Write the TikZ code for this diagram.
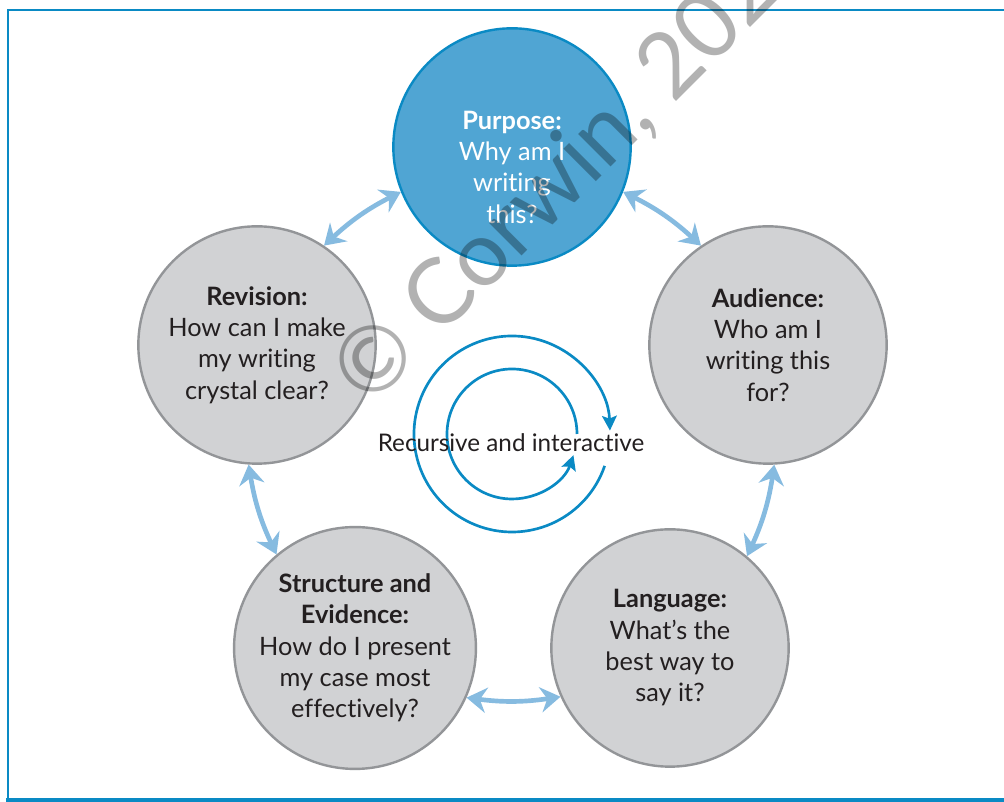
\documentclass[tikz,border=0pt]{standalone}
\usepackage{fontspec}
\setmainfont{Lato}[Ligatures=NoCommon]
\usetikzlibrary{arrows.meta}

\definecolor{ringblue}{HTML}{0A8AC4}
\definecolor{hubfill}{HTML}{50A5D3}
\definecolor{stagefill}{HTML}{D1D2D4}
\definecolor{stagering}{HTML}{939598}
\definecolor{linkblue}{HTML}{86BBE0}
\definecolor{ink}{HTML}{231F20}

\begin{document}
\begin{tikzpicture}[
  x=0.75pt, y=0.75pt,
  stage/.style={circle, draw=stagering, line width=1.8pt, fill=stagefill,
                minimum size=178pt, inner sep=0pt, align=center, text=ink,
                font=\fontsize{19}{23.5}\selectfont},
  hub/.style={stage, draw=ringblue, fill=hubfill},
  link/.style={{Stealth[length=15pt,width=19pt,inset=5pt]}-{Stealth[length=15pt,width=19pt,inset=5pt]},
               line width=3.5pt, linkblue},
  swirl/.style={-{Stealth[length=11pt,width=11pt,inset=2pt]}, line width=2pt, ringblue}
]
  \useasboundingbox (0,0) rectangle (1004,802);

  % Frame
  \draw[ringblue, line width=2pt] (1010,792) -- (8,792) -- (8,3);
  \draw[ringblue, line width=3pt] (6,2) -- (1010,2);

  % Stages
  \node[hub] (purpose) at (512,655) {};
  \node[text=white, align=center, font=\fontsize{19}{23.5}\selectfont] (purposetext) at (512,635)
    {\textbf{Purpose:}\\Why am I\\writing\\this?};
  \node[stage] (audience) at (768,457) {\textbf{Audience:}\\Who am I\\writing this\\for?};
  \node[stage] (language) at (670,154) {\textbf{Language:}\\What’s the\\best way to\\say it?};
  \node[stage] (structure) at (355,154)
    {\textbf{Structure and}\\\textbf{Evidence:}\\How do I present\\my case most\\effectively?};
  \node[stage] (revision) at (257,457) {\textbf{Revision:}\\How can I make\\my writing\\crystal clear?};

  % Links between stages
  \draw[link] (purpose.202) to[bend right=8] (revision.56);
  \draw[link] (purpose.338) to[bend left=8] (audience.124);
  \draw[link] (revision.266) to[bend right=8] (structure.130);
  \draw[link] (audience.273) to[bend left=8] (language.50);
  \draw[link] (structure.336) to[bend right=8] (language.204);

  % Centre loop
  \coordinate (swirlc) at (512,368);
  \draw[swirl] (swirlc) ++(-19:98) arc[start angle=-19, end angle=-358, radius=98];
  \draw[swirl] (swirlc) ++(0:65) arc[start angle=0, end angle=341, radius=65];
  \node[anchor=base, text=ink, font=\fontsize{18.2}{22}\selectfont] (recursive) at (511,350)
    {Recursive and interactive};

  % Watermark
  \node[rotate=45, anchor=base west, text=black, text opacity=0.3,
        font=\fontsize{68}{68}\selectfont] (mark) at (366,390) {© Corwin, 202};
\end{tikzpicture}
\end{document}
